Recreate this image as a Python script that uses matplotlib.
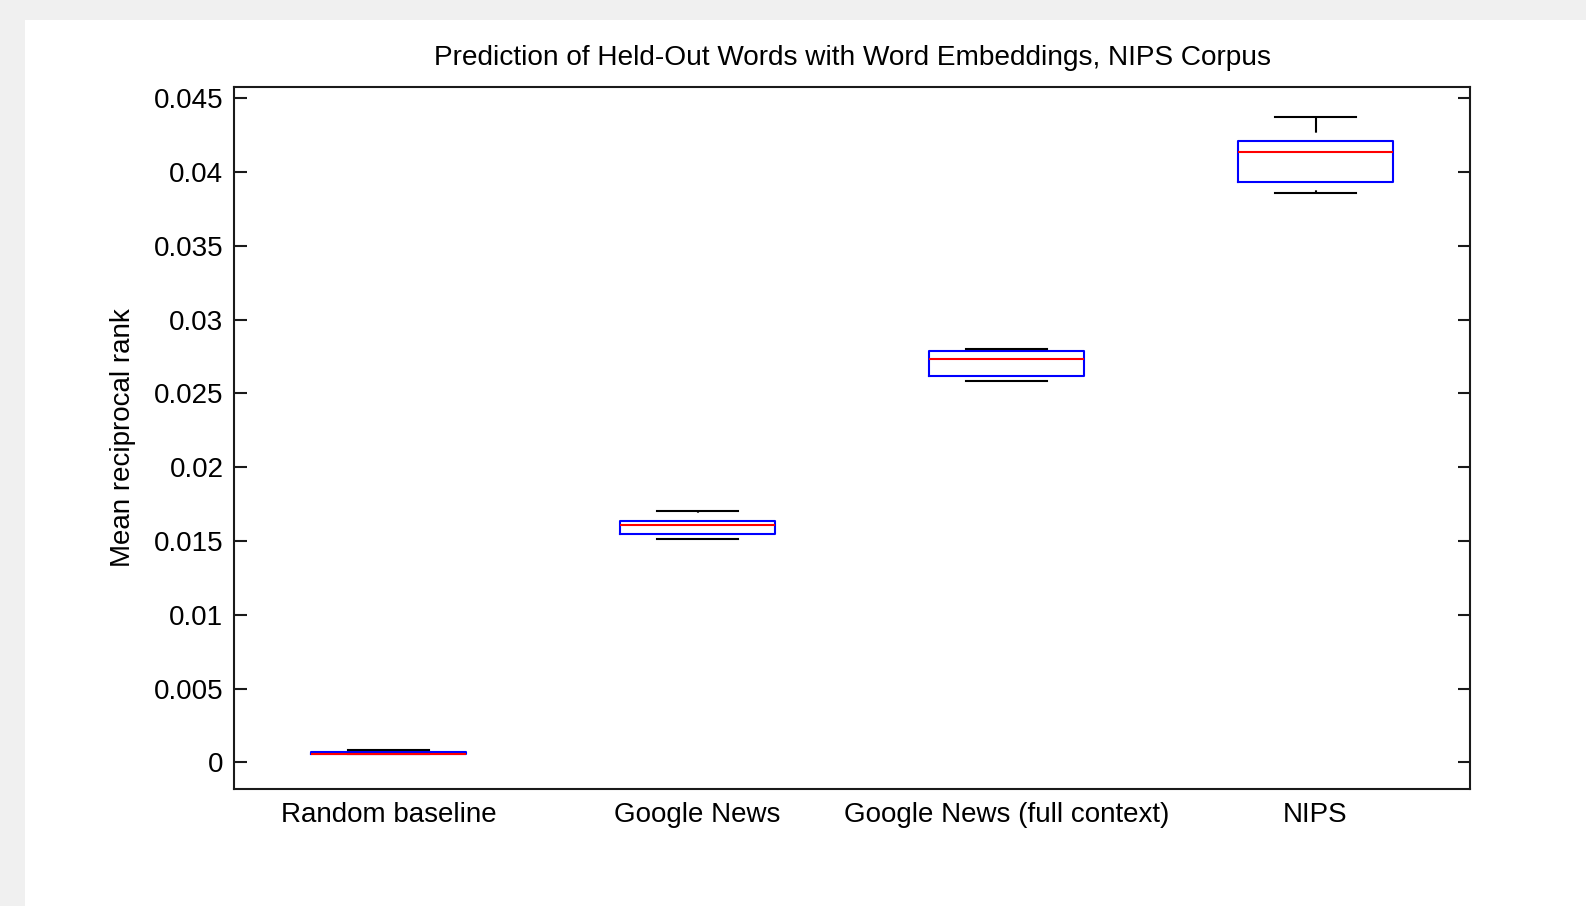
import matplotlib
matplotlib.use("Agg")
import matplotlib.pyplot as plt
from matplotlib.patches import Rectangle

# ---- data ----
categories = ['Random baseline', 'Google News', 'Google News (full context)', 'NIPS']
whisker_low = [0.00055, 0.01514, 0.02585, 0.03856]
quartile1 = [0.00058, 0.01548, 0.02617, 0.03931]
medians = [0.00058, 0.01609, 0.02732, 0.04134]
quartile3 = [0.00069, 0.01636, 0.02790, 0.04206]
whisker_high = [0.00084, 0.01706, 0.02801, 0.04369]
yticks = [0, 0.005, 0.01, 0.015, 0.02, 0.025, 0.03, 0.035, 0.04, 0.045]
ytick_labels = ['0', '0.005', '0.01', '0.015', '0.02', '0.025', '0.03', '0.035', '0.04', '0.045']
title = 'Prediction of Held-Out Words with Word Embeddings, NIPS Corpus'
ylabel = 'Mean reciprocal rank'

plt.rcParams['font.family'] = ['Liberation Sans', 'DejaVu Sans']
plt.rcParams['lines.scale_dashes'] = False

W, H = 1586, 906
fig = plt.figure(figsize=(W / 100, H / 100), dpi=100, facecolor='#f0f0f0')
fig.add_artist(Rectangle((25 / W, 0), 1 - 25 / W, 1 - 20 / H, transform=fig.transFigure,
                         facecolor='white', edgecolor='none', zorder=0))

ax_l, ax_r, ax_t, ax_b = 234, 1470, 87, 788.5
ax = fig.add_axes([ax_l / W, 1 - ax_b / H, (ax_r - ax_l) / W, (ax_b - ax_t) / H])
ax.set_facecolor('white')

stats = []
for i in range(len(categories)):
    stats.append(dict(label=categories[i], whislo=whisker_low[i], q1=quartile1[i],
                      med=medians[i], q3=quartile3[i], whishi=whisker_high[i], fliers=[]))

positions = list(range(1, len(categories) + 1))
ax.bxp(stats, positions=positions, widths=0.5, capwidths=0.26, showfliers=False,
       boxprops=dict(color='#0000ff', linewidth=1.5),
       medianprops=dict(color='#ff0000', linewidth=1.5),
       whiskerprops=dict(color='black', linewidth=1.5, linestyle=(11.2, (11.2, 6.0))),
       capprops=dict(color='black', linewidth=1.5))

ax.set_xlim(0.5, len(categories) + 0.5)
ax.set_ylim(-0.00177, 0.04575)
ax.set_yticks(yticks)
ax.set_yticklabels(ytick_labels)
ax.set_xticks(positions)
ax.set_xticklabels(categories)

for s in ax.spines.values():
    s.set_linewidth(1.5)
    s.set_color('#1a1a1a')

ax.tick_params(axis='y', direction='in', length=9, width=1.5, left=True, right=True,
               labelsize=20, pad=7.6, colors='#1a1a1a', labelcolor='black')
ax.tick_params(axis='x', length=0, labelsize=20, pad=10, labelcolor='black')

fig.text((ax_l + ax_r) / 2 / W, 1 - 58 / H, title, ha='center', va='center', fontsize=20.2)
fig.text(123 / W, 1 - (ax_t + ax_b) / 2 / H, ylabel, ha='center', va='center',
         rotation=90, fontsize=20)

fig.savefig('out.png', dpi=100, facecolor=fig.get_facecolor())
